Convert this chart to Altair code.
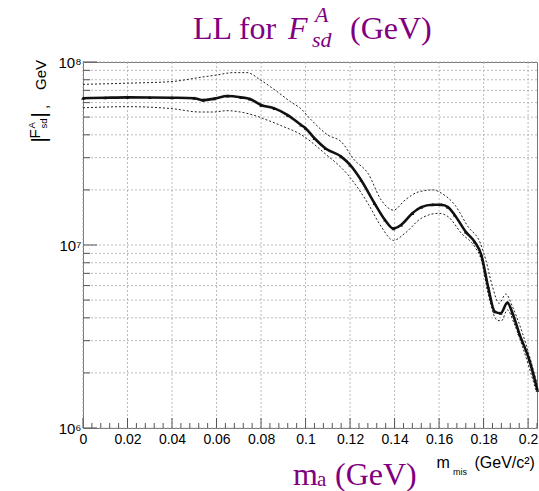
import altair as alt
import pandas as pd

# ---------------- data ----------------
x_central = [0, 0.01, 0.02, 0.03, 0.04, 0.05, 0.054, 0.059, 0.065, 0.071, 0.075,
             0.08, 0.086, 0.092, 0.098, 0.1, 0.104, 0.109, 0.116, 0.12, 0.125,
             0.131, 0.1357, 0.1395, 0.143, 0.148, 0.152, 0.157, 0.161, 0.164,
             0.167, 0.172, 0.176, 0.179, 0.182, 0.185, 0.1877, 0.1907, 0.193,
             0.196, 0.2005, 0.2042]
y_central = [63.4e6, 63.8e6, 64.1e6, 64.0e6, 63.8e6, 63.4e6, 61.9e6, 63.1e6, 65.2e6,
             64.1e6, 62.8e6, 58.2e6, 55.8e6, 51.3e6, 45.3e6, 43.5e6, 38.3e6, 33.7e6,
             30.4e6, 27.4e6, 22.6e6, 16.9e6, 13.7e6, 12.3e6, 12.9e6, 14.9e6, 16.1e6,
             16.6e6, 16.6e6, 16.1e6, 14.6e6, 11.8e6, 10.4e6, 8.81e6, 5.92e6, 4.33e6,
             4.24e6, 4.84e6, 4.24e6, 3.29e6, 2.36e6, 1.61e6]

x_upper = [0, 0.02, 0.04, 0.0526, 0.06, 0.0677, 0.0737, 0.0797, 0.0872, 0.0932,
           0.0977, 0.1026, 0.11, 0.116, 0.122, 0.128, 0.134, 0.1395, 0.1447,
           0.1507, 0.1575, 0.161, 0.167, 0.173, 0.1786, 0.181, 0.184, 0.187,
           0.19, 0.193, 0.1975, 0.204]
y_upper = [75.5e6, 76.6e6, 78.2e6, 82.4e6, 84.9e6, 87.5e6, 87.5e6, 79.8e6, 68.9e6,
           60.7e6, 55.8e6, 48.2e6, 39.9e6, 36.7e6, 29.1e6, 24.7e6, 17.6e6, 15.5e6,
           17.6e6, 19.5e6, 20.0e6, 19.2e6, 16.6e6, 12.6e6, 10.2e6, 8.28e6, 5.92e6,
           4.80e6, 5.40e6, 4.60e6, 3.29e6, 1.75e6]

x_lower = [0, 0.02, 0.04, 0.0526, 0.0586, 0.0647, 0.0707, 0.0767, 0.0827, 0.0902,
           0.0977, 0.1086, 0.119, 0.128, 0.134, 0.1395, 0.1447, 0.152, 0.1598,
           0.164, 0.17, 0.176, 0.179, 0.182, 0.186, 0.188, 0.1907, 0.1937,
           0.1975, 0.2035]
y_lower = [56.2e6, 57.0e6, 55.6e6, 53.3e6, 53.3e6, 54.2e6, 53.3e6, 51.2e6, 48.2e6,
           44.3e6, 40.3e6, 31.7e6, 24.2e6, 16.9e6, 12.6e6, 10.6e6, 11.6e6, 14.0e6,
           14.9e6, 14.3e6, 11.6e6, 9.79e6, 8.28e6, 5.44e6, 3.89e6, 3.85e6, 4.42e6,
           3.73e6, 2.78e6, 1.61e6]

# axis structure
x_major = [0, 0.02, 0.04, 0.06, 0.08, 0.1, 0.12, 0.14, 0.16, 0.18, 0.2]
x_minor = [round(0.004 * i, 3) for i in range(1, 52) if i % 5 != 0]
y_decades = [1e6, 1e7, 1e8]
y_decade_labels = ["10⁶", "10⁷", "10⁸"]
y_minor = [2e6, 3e6, 4e6, 5e6, 6e6, 7e6, 8e6, 9e6,
           2e7, 3e7, 4e7, 5e7, 6e7, 7e7, 8e7, 9e7]

# ---------------- layout ----------------
W, H = 454, 366
PURPLE = "#800080"
SERIF = "Liberation Serif"
SANS = "Liberation Sans"

xs = alt.Scale(domain=[0, 0.204], nice=False, zero=False)
ys = alt.Scale(type="log", domain=[1e6, 1e8], nice=False)

label_expr_y = " : ".join(
    [f"datum.value == {v:.0f} ? '{l}'" for v, l in zip(y_decades, y_decade_labels)]
) + " : ''"

x_axis = alt.Axis(values=x_major, labelExpr="format(datum.value, '~g')", title=None,
                  grid=False, domain=False, ticks=False, labelFont=SANS,
                  labelFontSize=14, labelPadding=4, labelFlush=False,
                  labelColor="#000")
y_axis = alt.Axis(values=y_decades, labelExpr=label_expr_y, title=None, grid=False,
                  domain=False, ticks=False, labelFont=SANS, labelFontSize=15,
                  labelPadding=2, labelColor="#000", labelBaseline="middle")


def X(field="x"):
    return alt.X(f"{field}:Q", scale=xs, axis=x_axis, title=None)


def Y(field="y"):
    return alt.Y(f"{field}:Q", scale=ys, axis=y_axis, title=None)


df_c = pd.DataFrame({"x": x_central, "y": y_central})
df_u = pd.DataFrame({"x": x_upper, "y": y_upper})
df_l = pd.DataFrame({"x": x_lower, "y": y_lower})

grid_style = dict(color="#aaaaaa", strokeDash=[2, 2], strokeWidth=0.8)

grid_h = alt.Chart(pd.DataFrame({"y": y_minor + y_decades})).mark_rule(**grid_style).encode(
    y=Y(), x=alt.value(0), x2=alt.value(W))
grid_v = alt.Chart(pd.DataFrame({"x": x_major})).mark_rule(**grid_style).encode(
    x=X(), y=alt.value(0), y2=alt.value(H))

tick_col = "#555555"
tick_ymin = alt.Chart(pd.DataFrame({"y": y_minor})).mark_rule(color=tick_col, strokeWidth=1).encode(
    y=Y(), x=alt.value(0), x2=alt.value(7))
tick_ymaj = alt.Chart(pd.DataFrame({"y": y_decades})).mark_rule(color=tick_col, strokeWidth=1).encode(
    y=Y(), x=alt.value(0), x2=alt.value(14))
tick_xmin = alt.Chart(pd.DataFrame({"x": x_minor})).mark_rule(color=tick_col, strokeWidth=1).encode(
    x=X(), y=alt.value(H), y2=alt.value(H - 5))
tick_xmaj = alt.Chart(pd.DataFrame({"x": x_major})).mark_rule(color=tick_col, strokeWidth=1).encode(
    x=X(), y=alt.value(H), y2=alt.value(H - 10))

upper = alt.Chart(df_u).mark_line(color="#222", strokeWidth=1, strokeDash=[2, 2],
                                  interpolate="monotone").encode(x=X(), y=Y())
lower = alt.Chart(df_l).mark_line(color="#222", strokeWidth=1, strokeDash=[2, 2],
                                  interpolate="monotone").encode(x=X(), y=Y())
central = alt.Chart(df_c).mark_line(color="#111", strokeWidth=2.6,
                                    interpolate="monotone").encode(x=X(), y=Y())
markers = alt.Chart(df_c).mark_point(shape="triangle-up", filled=True, size=14,
                                     color="#111", opacity=1).encode(x=X(), y=Y())

one = pd.DataFrame({"k": [0]})


def txt(s, x, y, size, font, color="#000", style="normal", angle=0):
    kw = dict(text=s, font=font, fontSize=size, fontStyle=style, color=color,
              align="left", baseline="alphabetic")
    if angle:
        kw["angle"] = angle
    return alt.Chart(one).mark_text(**kw).encode(x=alt.value(x), y=alt.value(y))


texts = [
    # main title
    txt("LL for", 110, -22.7, 32, SERIF, PURPLE),
    txt("F", 205, -22.7, 32, SERIF, PURPLE, "italic"),
    txt("A", 232, -40.5, 22, SERIF, PURPLE, "italic"),
    txt("sd", 229, -15.3, 22, SERIF, PURPLE, "italic"),
    txt("(GeV)", 267, -22.7, 32, SERIF, PURPLE),
    # purple x caption
    txt("m", 210, 423, 32, SERIF, PURPLE),
    txt("a", 234, 424, 21, SERIF, PURPLE),
    txt("(GeV)", 252, 423, 32, SERIF, PURPLE),
    # axis title x
    txt("m", 353.5, 405.5, 16, SANS),
    txt("mis", 370, 413, 9, SANS),
    txt("(GeV/c²)", 391.5, 405.5, 16, SANS),
    # axis title y (rotated)
    txt("|", -37, 80.5, 20, SANS, angle=270),
    txt("F", -43, 76.5, 15, SANS, angle=270),
    txt("A", -47.8, 66.5, 9.5, SANS, angle=270),
    txt("sd", -36.3, 66.5, 9.5, SANS, angle=270),
    txt("|", -37, 55.5, 20, SANS, angle=270),
    txt(",", -35.5, 47, 15, SANS, angle=270),
    txt("GeV", -37, 28, 15, SANS, angle=270),
]

chart = alt.layer(
    grid_h, grid_v, tick_ymin, tick_ymaj, tick_xmin, tick_xmaj,
    upper, lower, central, markers, *texts
).properties(
    width=W, height=H,
    padding={"left": 83, "top": 62, "right": 2, "bottom": 63},
    autosize=alt.AutoSizeParams(type="none"),
    background="white",
).configure_view(stroke="#777777", strokeWidth=1)

chart.save("out.html", embed_options={"renderer": "svg", "actions": False})
